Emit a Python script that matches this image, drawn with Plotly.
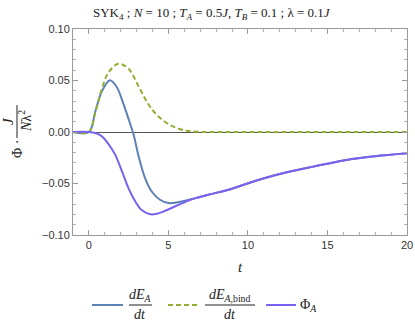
import plotly.graph_objects as go

W, H = 415, 327
L, R, T, B = 73, 8, 29, 92

# data
t_blue = [-1, 0, 0.4, 0.8, 1.32, 1.74, 2.16, 2.48, 2.8, 3.1, 3.53, 3.95, 4.47, 5.0, 5.52, 6.05, 6.7,
          7.5, 8.9, 10.8, 12, 14.1, 16.2, 18, 20]
dEA = [0, 0, 0.0197, 0.039, 0.0503, 0.0439, 0.0278, 0.0132, -0.002, -0.022, -0.0448, -0.0578, -0.0658,
       -0.069, -0.0684, -0.0668, -0.0642, -0.061, -0.0555, -0.0458, -0.0407, -0.0336, -0.0271, -0.0235,
       -0.0206]

t_green = [-1, 0, 0.4, 0.8, 1.22, 1.85, 2.48, 3.1, 3.74, 4.37, 5.21, 6.05, 6.8, 8, 20]
dEA_bind = [0, 0, 0.019, 0.041, 0.0575, 0.0662, 0.0617, 0.045, 0.027, 0.015, 0.006, 0.0015, 0.0003, 0, 0]

t_purple = [-1, 0, 0.4, 0.8, 1.2, 1.65, 2.1, 2.5, 2.9, 3.3, 3.8, 4.2, 4.8, 5.4, 6.05, 6.7, 7.5, 8.9,
            10.8, 12, 14.1, 16.2, 18, 20]
phiA = [0, 0, -0.001, -0.004, -0.011, -0.022, -0.039, -0.055, -0.067, -0.0755, -0.0797, -0.0797, -0.0765,
        -0.0723, -0.068, -0.0642, -0.061, -0.0555, -0.0458, -0.0407, -0.0336, -0.0271, -0.0235, -0.0206]

BLUE = "#5E81B5"
GREEN = "#8FB032"
PURPLE = "#7A62F0"
SERIF = "Liberation Serif"


def px_x(x):
    return (x - L) / (W - L - R)


def px_y(y):
    return (H - B - y) / (H - T - B)


fig = go.Figure()
fig.add_trace(go.Scatter(x=t_blue, y=dEA, mode="lines", line=dict(color=BLUE, width=2, shape="spline"),
                         showlegend=False))
fig.add_trace(go.Scatter(x=t_green, y=dEA_bind, mode="lines",
                         line=dict(color=GREEN, width=2, dash="5px,3px", shape="spline"), showlegend=False))
fig.add_trace(go.Scatter(x=t_purple, y=phiA, mode="lines", line=dict(color=PURPLE, width=2, shape="spline"),
                         showlegend=False))

ann = []
shapes = []


def text(x, y, s, size=13, angle=0):
    ann.append(dict(xref="paper", yref="paper", x=px_x(x), y=px_y(y), text=s, showarrow=False,
                    xanchor="center", yanchor="middle", textangle=angle,
                    font=dict(family=SERIF, size=size, color="#222")))


def hline(x0, x1, y, color="#222", width=1, dash="solid"):
    shapes.append(dict(type="line", xref="paper", yref="paper", x0=px_x(x0), x1=px_x(x1),
                       y0=px_y(y), y1=px_y(y), line=dict(color=color, width=width, dash=dash)))


# title
text(212, 13, "SYK<sub>4</sub> ; <i>N</i> = 10 ; <i>T<sub>A</sub></i> = 0.5<i>J</i>, "
     "<i>T<sub>B</sub></i> = 0.1 ; λ = 0.1<i>J</i>", size=13)

# y label: Φ · J / (N λ²)
text(17, 149, "Φ ·", size=14, angle=-90)
text(8, 121, "<i>J</i>", size=15, angle=-90)
text(25, 121, "<i>N</i>λ<sup>2</sup>", size=14, angle=-90)
shapes.append(dict(type="line", xref="paper", yref="paper", x0=px_x(17), x1=px_x(17),
                   y0=px_y(105), y1=px_y(138), line=dict(color="#222", width=1)))

# x label
text(240, 267, "<i>t</i>", size=15)

# custom legend
hline(92, 123, 305, color=BLUE, width=2)
text(140, 295, "<i>dE<sub>A</sub></i>", size=14)
hline(129, 152, 305)
text(140, 314, "<i>dt</i>", size=14)

hline(168, 197, 305, color=GREEN, width=2, dash="5px,3px")
text(230, 295, "<i>dE</i><sub><i>A</i>,bind</sub>", size=14)
hline(205, 255, 305)
text(230, 314, "<i>dt</i>", size=14)

hline(266, 296, 305, color=PURPLE, width=2)
text(308, 305, "Φ<sub><i>A</i></sub>", size=14)

axis_common = dict(showline=True, linecolor="#9a9a9a", linewidth=1, mirror="ticks", ticks="inside",
                   ticklen=5, tickcolor="#9a9a9a", showgrid=False, automargin=False,
                   tickfont=dict(family="Liberation Sans", size=11, color="#333"))

fig.update_layout(
    width=W, height=H,
    margin=dict(l=L, r=R, t=T, b=B),
    plot_bgcolor="white", paper_bgcolor="white",
    annotations=ann, shapes=shapes,
    xaxis=dict(range=[-1, 20], dtick=5, tick0=0, zeroline=False,
               minor=dict(dtick=1, ticks="inside", ticklen=3, tickcolor="#b0b0b0", showgrid=False),
               **axis_common),
    yaxis=dict(range=[-0.1, 0.1], dtick=0.05, tick0=0, tickformat=".2f", zeroline=True,
               zerolinecolor="#555", zerolinewidth=1,
               minor=dict(dtick=0.01, ticks="inside", ticklen=3, tickcolor="#b0b0b0", showgrid=False),
               **axis_common),
)

fig.write_html("out.html", config={"displayModeBar": False},
               post_script="document.body.style.margin='0';")
